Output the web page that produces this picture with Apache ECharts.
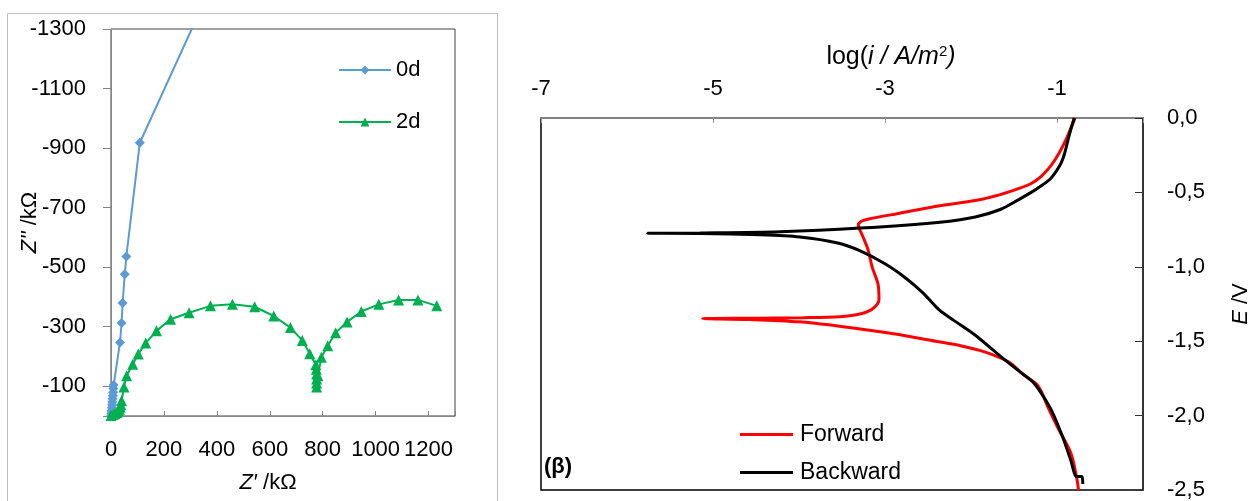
<!DOCTYPE html>
<html><head><meta charset="utf-8">
<script src="https://cdn.jsdelivr.net/npm/echarts@6/dist/echarts.min.js"></script>
<style>html,body{margin:0;padding:0;background:#fff}#c{width:1258px;height:501px}</style>
</head><body><div id="c"></div>
<script>
const FONT = 'Liberation Sans, Arial, sans-serif';

// ---- Nyquist (left) : Z' (kΩ) and Z'' (kΩ) ----
const d0Re = [0, 1, 2, 3, 4, 5, 6, 7, 8, 9, 10, 34, 40, 44, 52, 58, 109, 450];
const d0Im = [0, -8, -18, -28, -38, -48, -58, -68, -80, -92, -104, -247, -312, -380, -476, -536, -918, -1582];

const d2Re = [0, 8, 15, 22, 28, 32, 35, 37, 40, 49, 59, 82, 103, 131, 172, 225, 295, 376, 459, 543, 615, 678, 723, 751, 774, 776, 777, 777, 777, 777, 782, 795, 819, 849, 892, 946, 1012, 1087, 1160, 1231];
const d2Im = [-2, -5, -8, -12, -17, -23, -30, -38, -51, -97, -135, -174, -208, -245, -286, -325, -347, -370, -375, -367, -336, -297, -254, -209, -172, -157, -141, -124, -111, -97, -135, -197, -236, -280, -316, -351, -375, -390, -390, -370];

// ---- Polarisation (right) : log(i) and E (V) ----
const fwdLogI = [-0.75, -0.77, -0.84, -1.00, -1.10, -1.22, -1.40, -1.56, -1.85, -2.12, -2.41, -2.90, -3.53, -4.00, -4.57, -5.12, -4.50, -3.95, -3.53, -3.28, -3.14, -3.07, -3.08, -3.15, -3.20, -3.27, -3.31, -3.28, -3.20, -2.83, -2.36, -1.95, -1.66, -1.45, -1.30, -1.18, -1.07, -0.98, -0.90, -0.84, -0.79];
const fwdE    = [-2.50, -2.42, -2.25, -2.07, -1.95, -1.80, -1.72, -1.64, -1.57, -1.53, -1.50, -1.45, -1.40, -1.37, -1.355, -1.348, -1.345, -1.342, -1.335, -1.315, -1.28, -1.22, -1.12, -1.00, -0.88, -0.78, -0.72, -0.695, -0.68, -0.64, -0.59, -0.555, -0.515, -0.475, -0.44, -0.39, -0.32, -0.24, -0.15, -0.07, 0.0];

const bwdLogI = [-0.70, -0.71, -0.77, -0.84, -0.93, -1.06, -1.16, -1.27, -1.40, -1.66, -1.95, -2.20, -2.37, -2.55, -2.75, -3.00, -3.30, -3.55, -3.99, -4.45, -5.15, -5.76, -5.15, -4.22, -3.29, -2.36, -1.95, -1.66, -1.45, -1.30, -1.17, -1.08, -1.00, -0.95, -0.91, -0.86, -0.80];
const bwdE    = [-2.46, -2.41, -2.41, -2.30, -2.15, -1.97, -1.87, -1.78, -1.72, -1.60, -1.46, -1.36, -1.29, -1.18, -1.08, -0.98, -0.89, -0.84, -0.80, -0.785, -0.776, -0.775, -0.773, -0.765, -0.74, -0.70, -0.665, -0.615, -0.55, -0.50, -0.45, -0.41, -0.35, -0.30, -0.235, -0.12, 0.0];

const zip = (a, b) => a.map((v, i) => [v, b[i]]);

const chart = echarts.init(document.getElementById('c'), null, {renderer: 'canvas'});
const lbl = {fontSize: 22, color: '#000', fontFamily: FONT};

chart.setOption({
  animation: false,
  textStyle: {fontFamily: FONT},
  grid: [
    {left: 111, top: 29, width: 344, height: 387, show: true, borderColor: '#404040', borderWidth: 1},
    {left: 541, top: 118, width: 602, height: 374, show: true, borderColor: '#000', borderWidth: 1.5}
  ],
  xAxis: [
    {gridIndex: 0, type: 'value', min: 0, max: 1300, interval: 200, position: 'bottom',
     axisLine: {onZero: false, lineStyle: {color: '#868686', width: 1}},
     axisTick: {inside: true, length: 5, lineStyle: {color: '#868686'}},
     axisLabel: Object.assign({margin: 23, formatter: v => v === 1300 ? '' : String(v)}, lbl),
     splitLine: {show: false}},
    {gridIndex: 1, type: 'value', min: -7, max: 0, interval: 2, position: 'top',
     axisLine: {onZero: false, lineStyle: {color: '#999', width: 1.5}},
     axisTick: {inside: true, length: 5, lineStyle: {color: '#999'}},
     axisLabel: Object.assign({margin: 18, formatter: v => v === 0 ? '' : String(v)}, lbl),
     splitLine: {show: false}}
  ],
  yAxis: [
    {gridIndex: 0, type: 'value', min: -1300, max: 0, interval: 200, inverse: true, position: 'left',
     axisLine: {onZero: false, lineStyle: {color: '#868686', width: 1}},
     axisTick: {inside: false, length: 8, lineStyle: {color: '#868686'}},
     axisLabel: Object.assign({margin: 25, formatter: v => v === 0 ? '' : String(v)}, lbl),
     splitLine: {show: false},
     name: "{i|Z''} /kΩ", nameLocation: 'middle', nameRotate: 90, nameGap: 70, nameMoveOverlap: false,
     nameTextStyle: {fontSize: 22, color: '#000', fontFamily: FONT, rich: {i: {fontStyle: 'italic', fontSize: 22, fontFamily: FONT}}}},
    {gridIndex: 1, type: 'value', min: -2.5, max: 0, interval: 0.5, position: 'right',
     axisLine: {onZero: false, lineStyle: {color: '#333', width: 1.5}},
     axisTick: {inside: true, length: 8, lineStyle: {color: '#333'}},
     axisLabel: Object.assign({margin: 24, formatter: v => v.toFixed(1).replace('.', ',')}, lbl),
     splitLine: {show: false},
     name: '{i|E} /V', nameLocation: 'middle', nameRotate: 90, nameGap: 87,
     nameTextStyle: {fontSize: 22, color: '#000', fontFamily: FONT, rich: {i: {fontStyle: 'italic', fontSize: 22, fontFamily: FONT}}}}
  ],
  legend: [
    {data: ['0d', '2d'], left: 333, top: 54, orient: 'vertical', itemWidth: 52, itemHeight: 11, itemGap: 30,
     textStyle: {fontSize: 22, color: '#000', fontFamily: FONT}},
    {data: ['Forward', 'Backward'], left: 735, top: 418, orient: 'vertical', itemWidth: 53, itemHeight: 3, itemGap: 15,
     icon: 'rect', textStyle: {fontSize: 23, color: '#000', fontFamily: FONT, padding: [0, 0, 0, 2]}}
  ],
  series: [
    {name: '0d', type: 'line', xAxisIndex: 0, yAxisIndex: 0, data: zip(d0Re, d0Im),
     symbol: 'diamond', symbolSize: 10, clip: true,
     lineStyle: {color: '#5B9BD5', width: 2}, itemStyle: {color: '#5B9BD5'}},
    {name: '2d', type: 'line', xAxisIndex: 0, yAxisIndex: 0, data: zip(d2Re, d2Im),
     symbol: 'triangle', symbolSize: 11, clip: true,
     lineStyle: {color: '#00B050', width: 2}, itemStyle: {color: '#00B050'}},
    {name: 'Forward', type: 'line', xAxisIndex: 1, yAxisIndex: 1, data: zip(fwdLogI, fwdE),
     symbol: 'none', smooth: 0.3, clip: true,
     lineStyle: {color: '#FF0000', width: 3}, itemStyle: {color: '#FF0000'}},
    {name: 'Backward', type: 'line', xAxisIndex: 1, yAxisIndex: 1, data: zip(bwdLogI, bwdE),
     symbol: 'none', smooth: 0.3, clip: true,
     lineStyle: {color: '#000000', width: 3}, itemStyle: {color: '#000000'}}
  ],
  graphic: [
    {type: 'rect', shape: {x: 7.5, y: 13.5, width: 490, height: 520}, style: {fill: 'none', stroke: '#bfbfbf', lineWidth: 1}, silent: true},
    {type: 'text', style: {text: '{i|Z′} /kΩ', x: 268, y: 483, align: 'center', verticalAlign: 'middle',
      fontSize: 22, fontFamily: FONT, fill: '#000', rich: {i: {fontStyle: 'italic', fontSize: 22, fontFamily: FONT}}}},
    {type: 'text', style: {text: 'log({i|i / A/m}{s|2}{i|)}', x: 891, y: 57, align: 'center', verticalAlign: 'middle',
      fontSize: 25, fontFamily: FONT, fill: '#000', rich: {
        i: {fontStyle: 'italic', fontSize: 25, fontFamily: FONT},
        s: {fontSize: 15, fontFamily: FONT, verticalAlign: 'top', padding: [0, 0, 10, 0]}}}},
    {type: 'text', style: {text: '(β)', x: 558, y: 467, align: 'center', verticalAlign: 'middle',
      fontSize: 22, fontWeight: 'bold', fontFamily: FONT, fill: '#000'}}
  ]
});
</script></body></html>
